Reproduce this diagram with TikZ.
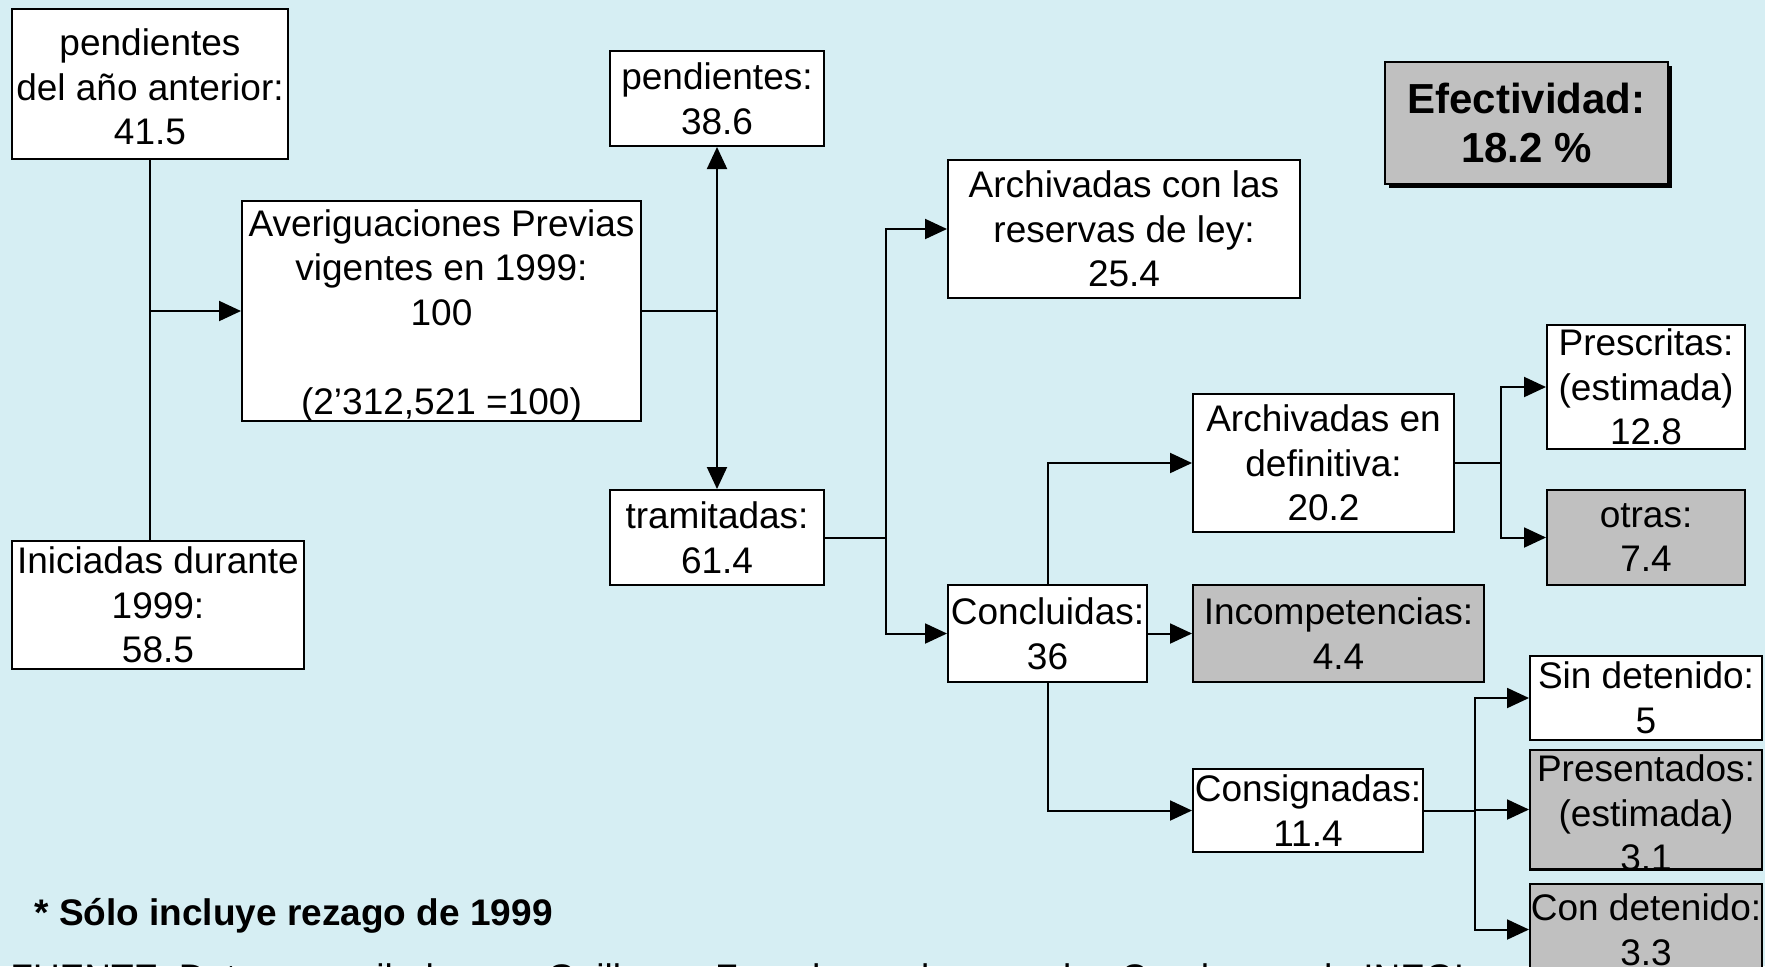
\documentclass[tikz,border=0pt]{standalone}
\usepackage{fontspec}
\setmainfont{Liberation Sans}
\usetikzlibrary{arrows.meta}
\definecolor{bg}{RGB}{214,238,243}
\definecolor{gfill}{RGB}{192,192,192}
\begin{document}
\begin{tikzpicture}[x=0.5pt,y=-0.5pt,
  box/.style={draw=black, line width=1pt, fill=white, align=center, inner sep=0pt,
    font=\fontsize{18.5}{22.3}\selectfont},
  gbox/.style={box, fill=gfill},
  txt/.style={align=center, inner sep=0pt, font=\fontsize{18.5}{22.3}\selectfont},
  sz/.style 2 args={minimum width={#1*0.5pt}, minimum height={#2*0.5pt}},
  conn/.style={line width=1pt},
  arr/.style={conn, -{Triangle[length=11pt,width=10pt]}},
  darr/.style={conn, {Triangle[length=11pt,width=10pt]}-{Triangle[length=11pt,width=10pt]}},
]
\useasboundingbox (0,0) rectangle (1765,966);
\clip (0,0) rectangle (1765,966);
\fill[bg] (0,0) rectangle (1765,966);

% nodes
\node[box, sz={276}{150}] (p0) at (150,84) {};
\node[txt] (p0T) at (150,87) {pendientes\\del año anterior:\\41.5};
\node[box, sz={399}{220}] (ap) at (441.5,311) {};
\node[txt] (apT) at (441.5,316) {Averiguaciones Previas\\vigentes en 1999:\\100\\\mbox{}\\(2’312,521 =100)};
\node[box, sz={292}{128}] (ini) at (158,605) {Iniciadas durante\\1999:\\58.5};
\node[box, sz={214}{95}] (pend) at (717,98.5) {pendientes:\\38.6};
\node[box, sz={214}{95}] (tram) at (717,537.5) {tramitadas:\\61.4};
\node[box, sz={352}{138}] (arley) at (1124,229) {Archivadas con las\\reservas de ley:\\25.4};
\node[box, sz={261}{138}] (ardef) at (1323.5,463) {Archivadas en\\definitiva:\\20.2};
\node[box, sz={199}{97}] (conc) at (1047.5,633.5) {Concluidas:\\36};
\node[gbox, sz={291}{97}] (incomp) at (1338.5,633.5) {Incompetencias:\\4.4};
\node[box, sz={230}{83}] (consig) at (1308,810.5) {Consignadas:\\11.4};
\node[box, sz={198}{124}] (presc) at (1646,387) {Prescritas:\\(estimada)\\12.8};
\node[gbox, sz={198}{95}] (otras) at (1646,537.5) {otras:\\7.4};
\node[box, sz={232}{84}] (sin) at (1646,698) {Sin detenido:\\5};
\node[gbox, sz={232}{119}] (pres) at (1646,809.5) {};
\node[txt] (presT) at (1646,813) {Presentados:\\(estimada)\\3.1};
\draw[line width=1pt] (pres.south west) -- (pres.south east);
\node[gbox, sz={232}{91}] (con) at (1646,929.5) {Con detenido:\\3.3};

% efectividad
\fill[black] (1389,66) rectangle (1672,188);
\node[gbox, sz={283}{122}, font=\fontsize{21}{24.8}\selectfont\bfseries] (efec) at (1526.5,123) {Efectividad:\\18.2 \%};

% connectors
\draw[conn] (p0.south) -- (p0.south |- ini.north);
\draw[arr] (p0.south |- ap.west) -- (ap.west);
\coordinate (j1) at (pend.south |- ap.east);
\draw[conn] (ap.east) -- (j1);
\draw[darr] (pend.south) -- (tram.north);
\coordinate (j2) at (886,537.5);
\draw[conn] (tram.east) -- (j2);
\draw[arr] (j2) |- (arley.west);
\draw[arr] (j2) |- (conc.west);
\draw[arr] (conc.north) |- (ardef.west);
\draw[arr] (conc.east) -- (incomp.west);
\draw[arr] (conc.south) |- (consig.west);
\coordinate (j3) at (1501,463);
\draw[conn] (ardef.east) -- (j3);
\draw[arr] (j3) |- (presc.west);
\draw[arr] (j3) |- (otras.west);
\coordinate (j4) at (1475,810.5);
\draw[conn] (consig.east) -- (j4);
\draw[arr] (j4) |- (sin.west);
\draw[arr] (j4) -- (j4 |- pres.west) -- (pres.west);
\draw[arr] (j4) |- (con.west);

% notes
\node[anchor=base west, inner sep=0pt, font=\fontsize{18.5}{22.3}\selectfont\bfseries] (nota) at (34,925) {* Sólo incluye rezago de 1999};
\node[anchor=base west, inner sep=0pt, font=\fontsize{18.5}{22.3}\selectfont] (fuente) at (10,990) {FUENTE: Datos compilados por Guillermo Zepeda con base en los Cuadernos de INEGI};
\end{tikzpicture}
\end{document}
